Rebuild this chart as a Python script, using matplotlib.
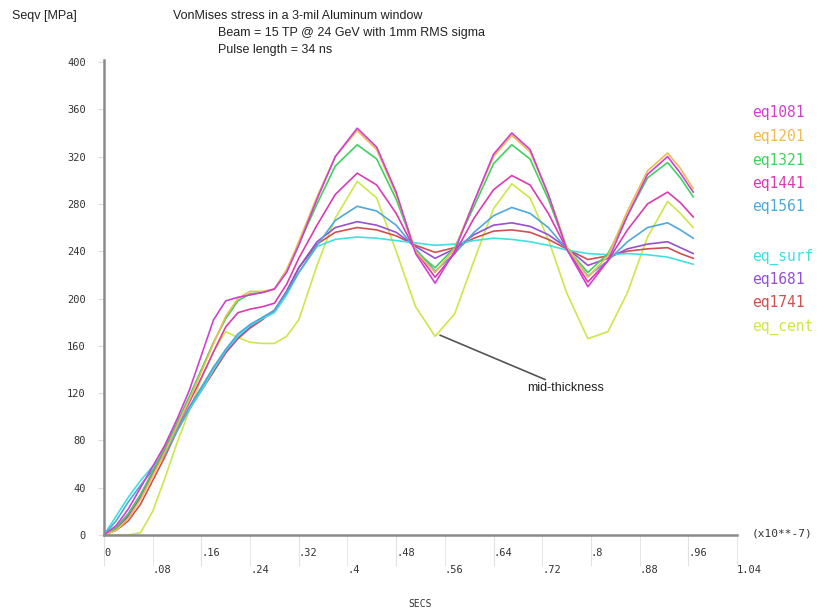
import matplotlib
matplotlib.use('Agg')
import matplotlib.pyplot as plt

# time in units of 1e-7 s
t = [0, .02, .04, .06, .08, .10, .12, .14, .16, .18, .20, .22, .24, .26, .28, .30, .32, .35, .38, .416,
     .448, .48, .512, .544, .576, .608, .64, .67,
     .70, .73, .76, .795, .828, .86, .893, .926, .947, .968]

eq1081 = [0, 8, 22, 40, 58, 76, 98, 122, 152, 182, 198, 201, 203, 205, 208, 222, 245, 284, 320, 344,
          328, 290, 238, 213, 240, 282, 322, 340,
          326, 288, 242, 210, 232, 270, 305, 320, 306, 290]
eq1201 = [0, 4, 14, 30, 50, 70, 92, 114, 138, 162, 185, 200, 206, 206, 208, 224, 248, 286, 320, 342,
          326, 288, 240, 222, 242, 282, 320, 338,
          324, 288, 244, 218, 236, 274, 308, 323, 310, 293]
eq1321 = [0, 6, 18, 34, 54, 74, 95, 117, 140, 163, 183, 198, 204, 205, 208, 224, 246, 280, 312, 330,
          318, 284, 240, 226, 243, 278, 314, 330,
          318, 284, 243, 222, 238, 270, 302, 315, 302, 286]
eq1441 = [0, 6, 18, 34, 52, 72, 92, 112, 133, 155, 176, 188, 191, 193, 196, 212, 234, 262, 288, 306,
          296, 272, 240, 218, 238, 268, 292, 304,
          296, 272, 242, 214, 232, 258, 280, 290, 281, 269]
eq1561 = [0, 12, 28, 42, 55, 68, 88, 108, 125, 142, 157, 170, 178, 184, 190, 205, 222, 245, 266, 278,
          274, 262, 242, 223, 238, 256, 270, 277,
          272, 260, 242, 219, 232, 248, 260, 264, 258, 251]
eq_surf = [0, 16, 32, 46, 58, 70, 88, 106, 122, 140, 156, 168, 177, 183, 188, 203, 222, 244, 250, 252,
           251, 249, 247, 245, 246, 249, 251, 250,
           248, 245, 241, 238, 237, 238, 237, 235, 232, 229]
eq1681 = [0, 5, 16, 32, 52, 70, 90, 108, 124, 140, 155, 167, 176, 183, 190, 206, 226, 248, 260, 265,
          262, 256, 244, 234, 242, 254, 262, 264,
          261, 254, 243, 228, 234, 242, 246, 248, 243, 238]
eq1741 = [0, 4, 12, 26, 46, 66, 88, 106, 122, 138, 154, 166, 175, 182, 190, 206, 226, 246, 256, 260,
          258, 253, 245, 239, 243, 251, 257, 258,
          256, 250, 242, 233, 236, 240, 242, 243, 238, 234]
eq_cent = [0, 0, 0, 2, 20, 48, 78, 105, 132, 155, 172, 167, 163, 162, 162, 168, 182, 228, 268, 299,
           285, 240, 193, 168, 187, 232, 276, 297,
           285, 250, 205, 166, 172, 205, 252, 282, 272, 260]

names = ['eq1081', 'eq1201', 'eq1321', 'eq1441', 'eq1561', 'eq_surf', 'eq1681', 'eq1741', 'eq_cent']
series = [eq1081, eq1201, eq1321, eq1441, eq1561, eq_surf, eq1681, eq1741, eq_cent]
colors = ['#d040d0', '#ecbc50', '#40d060', '#d83cb0', '#50a8d8', '#40e0e0', '#9650d0', '#d05050', '#cce848']
legend_y = [113, 137, 160, 183, 207, 257, 280, 303, 327]   # pixel rows of the legend entries

yticks = [0, 40, 80, 120, 160, 200, 240, 280, 320, 360, 400]
xticks_top = [0, .16, .32, .48, .64, .8, .96]
xlabels_top = ['0', '.16', '.32', '.48', '.64', '.8', '.96']
xticks_bot = [.08, .24, .4, .56, .72, .88, 1.04]
xlabels_bot = ['.08', '.24', '.4', '.56', '.72', '.88', '1.04']

W, H = 831, 612
fig = plt.figure(figsize=(W / 100, H / 100), dpi=100)
ax = fig.add_axes([104 / W, 77 / H, 633 / W, 475 / H])

# draw back to front so the top curves sit on top
for name, y, c in reversed(list(zip(names, series, colors))):
    ax.plot(t, y, color=c, lw=1.2)

ax.set_xlim(0, 1.04)
ax.set_ylim(0, 401.7)
for s in ['top', 'right']:
    ax.spines[s].set_visible(False)
for s in ['left', 'bottom']:
    ax.spines[s].set_color('#8a8a8a')
    ax.spines[s].set_linewidth(1.8)

mono = 'DejaVu Sans Mono'
ax.set_yticks(yticks)
ax.set_yticklabels([str(v) for v in yticks], fontfamily=mono, fontsize=7.5, color='#333333')
ax.tick_params(axis='y', length=4, color='#dddddd', pad=9)

ax.set_xticks(xticks_top)
ax.set_xticklabels(xlabels_top, fontfamily=mono, fontsize=7.5, color='#333333', ha='left')
ax.set_xticks(xticks_bot, minor=True)
ax.set_xticklabels(xlabels_bot, minor=True, fontfamily=mono, fontsize=7.5, color='#333333', ha='left')
ax.tick_params(axis='x', which='major', length=22, color='#e2e2e2', pad=-12.5)
ax.tick_params(axis='x', which='minor', length=22, color='#e2e2e2', pad=-0.5)

ax.set_xlabel('SECS', fontfamily=mono, fontsize=7, color='#333333')
ax.xaxis.set_label_coords(0.5, -0.134)

fig.text(752 / W, 1 - 533 / H, '(x10**-7)', fontfamily=mono, fontsize=8, color='#333333', va='center')

sans = 'Liberation Sans'
fig.text(12 / W, 1 - 16 / H, 'Seqv [MPa]', fontfamily=sans, fontsize=9, va='center', color='#222222')
fig.text(173 / W, 1 - 16 / H, 'VonMises stress in a 3-mil Aluminum window',
         fontfamily=sans, fontsize=9, va='center', color='#222222')
fig.text(218 / W, 1 - 33 / H, 'Beam = 15 TP @ 24 GeV with 1mm RMS sigma',
         fontfamily=sans, fontsize=9, va='center', color='#222222')
fig.text(218 / W, 1 - 50 / H, 'Pulse length = 34 ns',
         fontfamily=sans, fontsize=9, va='center', color='#222222')

for name, c, yp in zip(names, colors, legend_y):
    fig.text(752 / W, 1 - yp / H, name, fontfamily=mono, fontsize=10.5, color=c, va='center')

ax.annotate('mid-thickness', xy=(0.552, 169), xytext=(0.696, 124),
            fontfamily=sans, fontsize=9, color='#222222', va='center',
            arrowprops=dict(arrowstyle='-', color='#555555', lw=1.2, shrinkA=0, shrinkB=0))

fig.savefig('out.png', dpi=100, facecolor='white')
